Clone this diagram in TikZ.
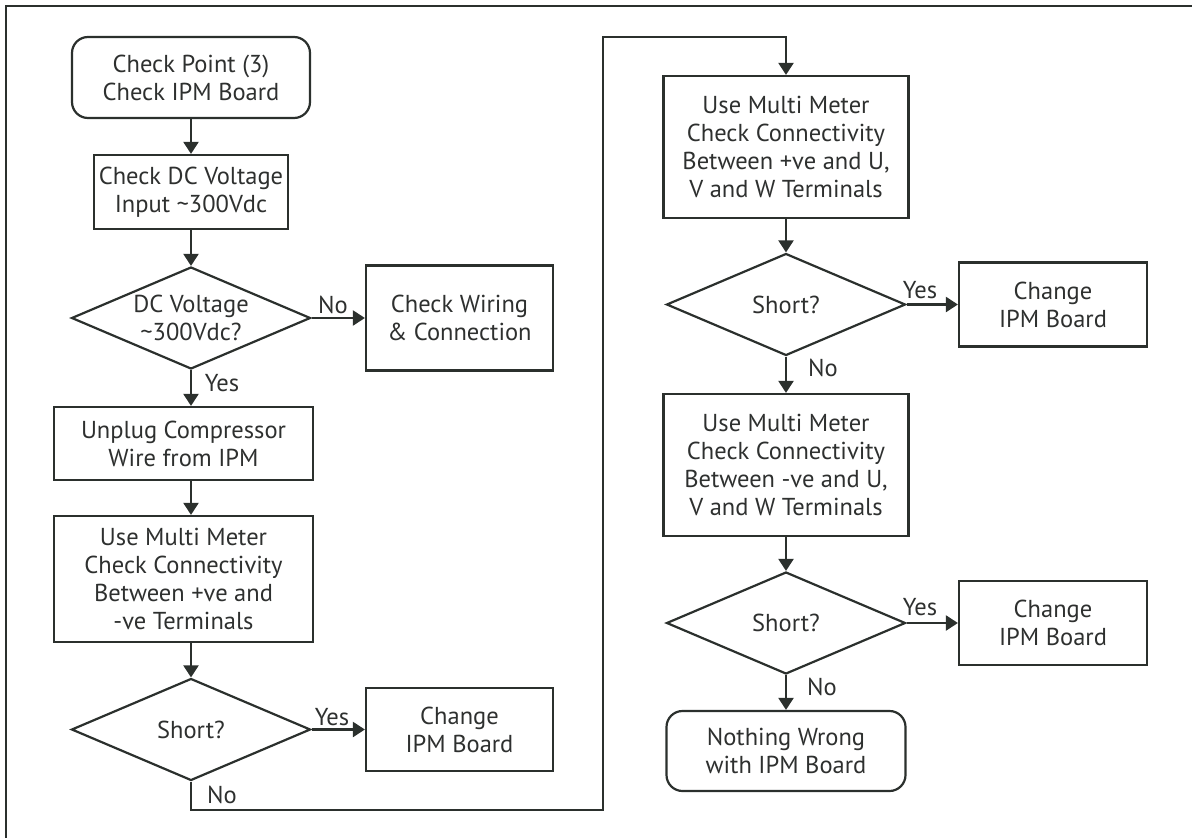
\documentclass[tikz,border=0pt]{standalone}
\usepackage{fontspec}
\setmainfont{PT Sans}
\usetikzlibrary{shapes.geometric,arrows.meta}
\definecolor{ln}{HTML}{2B302D}
\definecolor{tx}{HTML}{2E302F}
\begin{document}
\begin{tikzpicture}[x=1pt,y=-1pt,
  every node/.style={font=\fontsize{24.5}{28}\selectfont, text=tx, align=center, inner sep=0pt},
  box/.style={draw=ln, line width=2.2pt, rectangle},
  term/.style={draw=ln, line width=2.2pt, rectangle, rounded corners=16pt},
  dia/.style={draw=ln, line width=2.2pt, diamond, shape aspect=2.34, minimum width=239pt, minimum height=102pt},
  arr/.style={draw=ln, line width=2.2pt, -{Triangle[length=12pt,width=15pt]}},
  lbl/.style={font=\fontsize{24.5}{28}\selectfont}]
\useasboundingbox (0,0) rectangle (1192,838);
\draw[ln, line width=2.4pt] (6,840) -- (6,6) -- (1194,6);

% left column
\node[term, minimum width=238pt, minimum height=81pt] (start) at (191,77.5) {Check Point (3)\\Check IPM Board};
\node[box, minimum width=194pt, minimum height=74pt] (volt) at (191,192) {Check DC Voltage\\Input \textasciitilde300Vdc};
\node[dia] (d1) at (191,318) {DC Voltage\\\textasciitilde300Vdc?};
\node[box, minimum width=187pt, minimum height=105pt] (wire) at (459.5,318) {Check Wiring\\\& Connection};
\node[box, minimum width=259pt, minimum height=73pt] (unplug) at (183.5,443.5) {Unplug Compressor\\Wire from IPM};
\node[box, minimum width=259pt, minimum height=126pt] (mm1) at (183.5,579) {Use Multi Meter\\Check Connectivity\\Between +ve and\\-ve Terminals};
\node[dia] (d2) at (191,729.5) {Short?};
\node[box, minimum width=187pt, minimum height=83pt] (chg1) at (459.5,729.5) {Change\\IPM Board};

% right column
\node[box, minimum width=245pt, minimum height=142pt] (mm2) at (786,147) {Use Multi Meter\\Check Connectivity\\Between +ve and U,\\V and W Terminals};
\node[dia] (d3) at (786,304.5) {Short?};
\node[box, minimum width=188pt, minimum height=84pt] (chg2) at (1053,304.5) {Change\\IPM Board};
\node[box, minimum width=245pt, minimum height=142pt] (mm3) at (786,465) {Use Multi Meter\\Check Connectivity\\Between -ve and U,\\V and W Terminals};
\node[dia] (d4) at (786,623) {Short?};
\node[box, minimum width=188pt, minimum height=84pt] (chg3) at (1053,623) {Change\\IPM Board};
\node[term, minimum width=239pt, minimum height=80pt] (end) at (786,751) {Nothing Wrong\\with IPM Board};

\coordinate (loopA) at (603,810);
\coordinate (loopB) at (786,37);

% connectors
\draw[arr] (start) -- (volt);
\draw[arr] (volt) -- (d1);
\draw[arr] (d1.east) -- (wire.west);
\draw[arr] (d1.south) -- (d1.south |- unplug.north);
\draw[arr] (unplug.south -| d1.south) -- (mm1.north -| d1.south);
\draw[arr] (mm1.south -| d2.north) -- (d2.north);
\draw[arr] (d2.east) -- (chg1.west);
\draw[arr] (d2.south) |- (loopA) |- (loopB) -- (mm2.north);
\draw[arr] (mm2) -- (d3);
\draw[arr] (d3.east) -- (chg2.west);
\draw[arr] (d3) -- (mm3);
\draw[arr] (mm3) -- (d4);
\draw[arr] (d4.east) -- (chg3.west);
\draw[arr] (d4) -- (end);

% labels
\node[lbl] (l1) at (333,305) {No};
\node[lbl] (l2) at (222,383) {Yes};
\node[lbl] (l3) at (332,717) {Yes};
\node[lbl] (l4) at (222,795) {No};
\node[lbl] (l5) at (920,290) {Yes};
\node[lbl] (l6) at (823,368) {No};
\node[lbl] (l7) at (920,607) {Yes};
\node[lbl] (l8) at (822,687) {No};
\end{tikzpicture}
\end{document}
